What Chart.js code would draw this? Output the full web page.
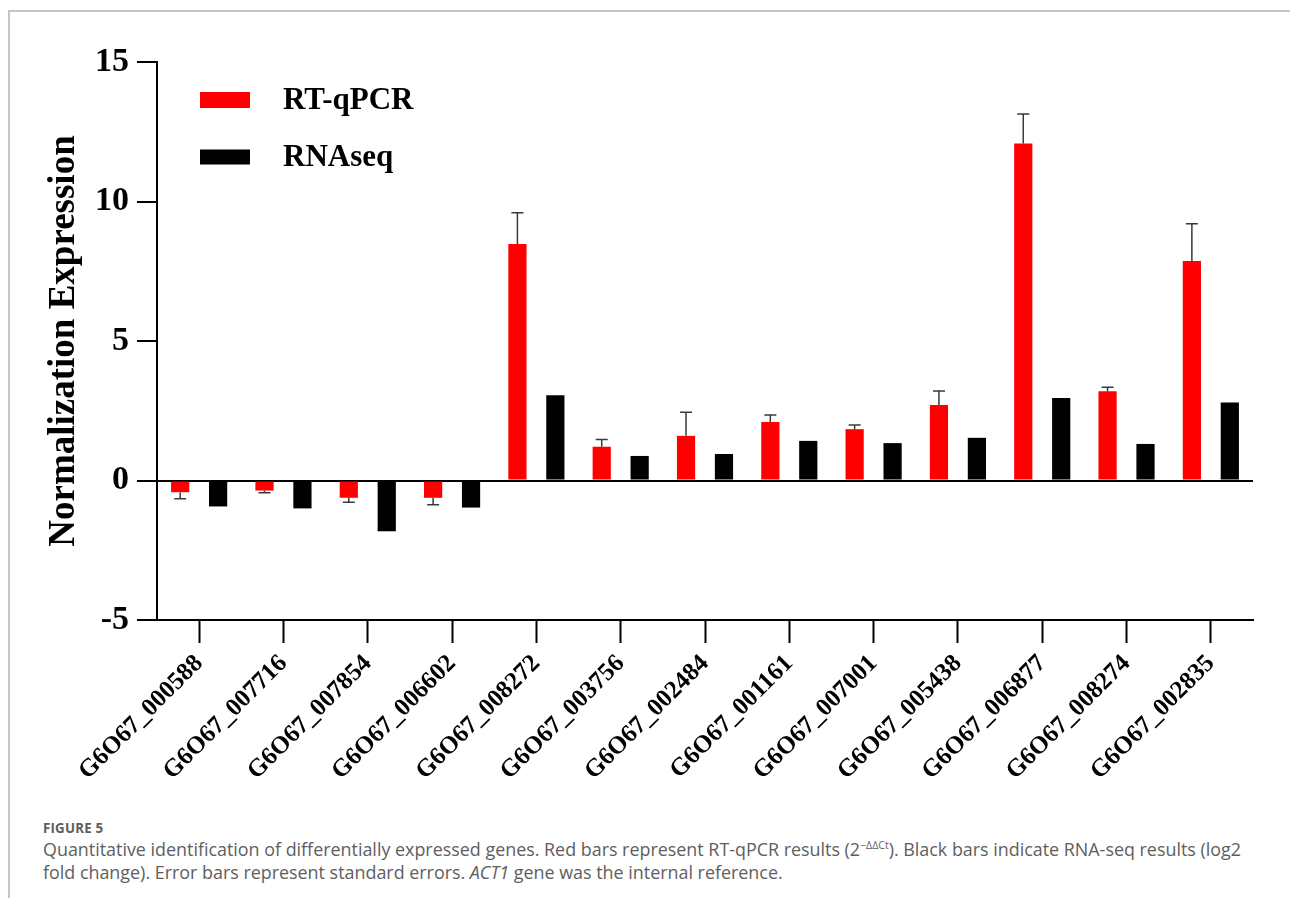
<!DOCTYPE html>
<html>
<head>
<meta charset="utf-8">
<script src="https://cdn.jsdelivr.net/npm/chart.js@4/dist/chart.umd.min.js"></script>
<style>
  html, body { margin: 0; padding: 0; background: #fff; }
  body { width: 1290px; height: 901px; position: relative; overflow: hidden; }
  #frame {
    position: absolute; left: 8px; top: 10px; right: 0; bottom: 3px;
    border-left: 2px solid #c6c6c6; border-top: 2px solid #c6c6c6;
  }
  #chart { position: absolute; left: 0; top: 0; }
  #caption {
    position: absolute; left: 43px; top: 819px; width: 1245px;
    font-family: "Open Sans", sans-serif; color: #5e5e5e;
  }
  #caption .fig { font-size: 13.3px; font-weight: 700; letter-spacing: 0.2px; line-height: 19px; }
  #caption .txt { font-size: 17.9px; line-height: 23px; white-space: nowrap; }
  #caption sup { font-size: 10.5px; line-height: 0; vertical-align: 7px; }
</style>
</head>
<body>
<div id="frame"></div>
<canvas id="chart" width="1290" height="800"></canvas>
<div id="caption">
  <div class="fig">FIGURE 5</div>
  <div class="txt">Quantitative identification of differentially expressed genes. Red bars represent RT-qPCR results (2<sup>−ΔΔCt</sup>). Black bars indicate RNA-seq results (log2<br>fold change). Error bars represent standard errors. <i>ACT1</i> gene was the internal reference.</div>
</div>
<script>
// Gene IDs on the x axis
const genes = [
  'G6O67_000588', 'G6O67_007716', 'G6O67_007854', 'G6O67_006602',
  'G6O67_008272', 'G6O67_003756', 'G6O67_002484', 'G6O67_001161',
  'G6O67_007001', 'G6O67_005438', 'G6O67_006877', 'G6O67_008274',
  'G6O67_002835'
];
// RT-qPCR relative expression and its standard error
const qpcr = [-0.42, -0.36, -0.62, -0.62, 8.48, 1.21, 1.60, 2.10, 1.84, 2.71, 12.08, 3.20, 7.87];
const qpcrErr = [0.23, 0.08, 0.16, 0.25, 1.12, 0.26, 0.85, 0.25, 0.15, 0.50, 1.06, 0.14, 1.33];
// RNA-seq log2 fold change
const rnaseq = [-0.93, -1.00, -1.82, -0.97, 3.06, 0.88, 0.95, 1.42, 1.34, 1.53, 2.96, 1.31, 2.80];
// y axis ticks
const yTicks = [-5, 0, 5, 10, 15];

const SERIF = "'Liberation Serif', 'Times New Roman', serif";

// One-sided error bars drawn away from zero on the RT-qPCR bars
const errorBars = {
  id: 'errorBars',
  afterDatasetsDraw(chart) {
    const ctx = chart.ctx;
    const meta = chart.getDatasetMeta(0);
    const y = chart.scales.y;
    ctx.save();
    ctx.strokeStyle = '#3a3a3a';
    ctx.lineWidth = 1.5;
    meta.data.forEach((bar, i) => {
      const v = qpcr[i];
      const end = v + (v >= 0 ? qpcrErr[i] : -qpcrErr[i]);
      const y0 = y.getPixelForValue(v);
      const y1 = y.getPixelForValue(end);
      ctx.beginPath();
      ctx.moveTo(bar.x, y0);
      ctx.lineTo(bar.x, y1);
      ctx.moveTo(bar.x - 6, y1);
      ctx.lineTo(bar.x + 6, y1);
      ctx.stroke();
    });
    ctx.restore();
  }
};

// Legend placed inside the plot, upper left
const insideLegend = {
  id: 'insideLegend',
  afterDraw(chart) {
    const ctx = chart.ctx;
    const rows = [{ y: 100, h: 16 }, { y: 157, h: 15 }];
    ctx.save();
    chart.data.datasets.forEach((ds, i) => {
      const r = rows[i];
      ctx.fillStyle = ds.backgroundColor;
      ctx.fillRect(200, r.y - r.h / 2, 50, r.h);
      ctx.fillStyle = '#000';
      ctx.font = 'bold 31px ' + SERIF;
      ctx.textBaseline = 'middle';
      ctx.textAlign = 'left';
      ctx.fillText(ds.label, 283, r.y + 1);
    });
    ctx.restore();
  }
};

new Chart(document.getElementById('chart'), {
  type: 'bar',
  data: {
    labels: genes,
    datasets: [
      { label: 'RT-qPCR', data: qpcr, backgroundColor: '#ff0000' },
      { label: 'RNAseq', data: rnaseq, backgroundColor: '#000000' }
    ]
  },
  options: {
    responsive: false,
    animation: false,
    devicePixelRatio: 1,
    categoryPercentage: 0.9,
    barPercentage: 0.48,
    layout: { padding: { top: 62, right: 37, left: 0, bottom: 0 } },
    plugins: { legend: { display: false }, tooltip: { enabled: false } },
    scales: {
      x: {
        afterFit(scale) { scale.height = 180; },
        border: { display: true, color: '#000', width: 2 },
        grid: {
          offset: false, drawOnChartArea: false, drawTicks: true,
          tickLength: 23, tickWidth: 2, tickColor: '#000'
        },
        ticks: {
          color: '#000', maxRotation: 45, minRotation: 45, padding: 6,
          font: { family: SERIF, size: 25, weight: 'bold' }
        }
      },
      y: {
        min: yTicks[0], max: yTicks[yTicks.length - 1],
        afterFit(scale) { scale.width = 157; },
        afterBuildTicks(scale) { scale.ticks = yTicks.map(v => ({ value: v })); },
        border: { display: true, color: '#000', width: 2 },
        grid: {
          color: c => (c.tick && c.tick.value === 0 ? '#000' : 'rgba(0,0,0,0)'),
          lineWidth: 2, tickColor: '#000', tickLength: 20, tickWidth: 2
        },
        ticks: {
          color: '#000', padding: 8,
          font: { family: SERIF, size: 34, weight: 'bold' }
        },
        title: {
          display: true, text: 'Normalization Expression', color: '#000',
          padding: { top: 42, bottom: 0 },
          font: { family: SERIF, size: 37, weight: 'bold' }
        }
      }
    }
  },
  plugins: [errorBars, insideLegend]
});
</script>
</body>
</html>
